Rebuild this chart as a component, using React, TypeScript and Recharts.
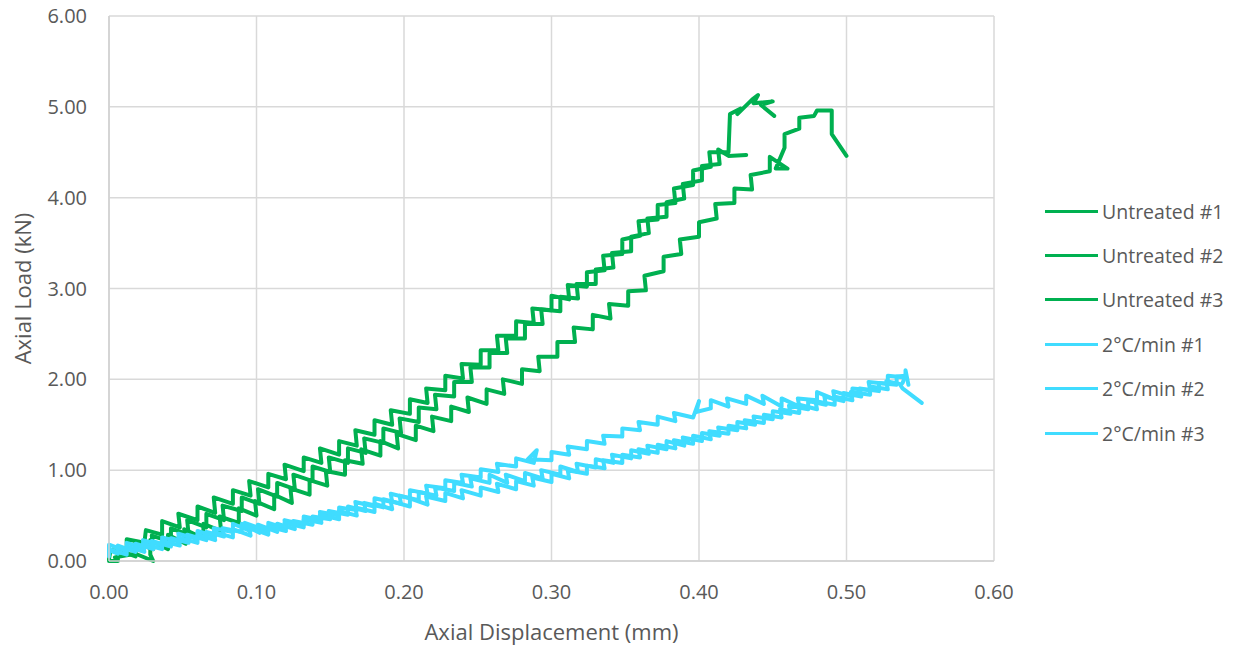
import { LineChart, Line, XAxis, YAxis, CartesianGrid, Legend } from "recharts";

const FONT = "'Open Sans', sans-serif";
const TEXT = "#595959";
const GREEN = "#00B050";
const CYAN = "#40DCFF";

const xTicks = [0, 0.1, 0.2, 0.3, 0.4, 0.5, 0.6];
const yTicks = [0, 1, 2, 3, 4, 5, 6];

// [displacement mm, load kN] in recording order (stepped loading)
const untreated1: [number, number][] = [
  [0, 0.02], [0.001, 0.12], [0.012, 0.1], [0.012, 0.24], [0.024, 0.2], [0.025, 0.34],
  [0.036, 0.29], [0.036, 0.44], [0.048, 0.37], [0.047, 0.52], [0.06, 0.45], [0.06, 0.6],
  [0.072, 0.53], [0.071, 0.7], [0.084, 0.63], [0.084, 0.78], [0.096, 0.72], [0.095, 0.88],
  [0.108, 0.81], [0.108, 0.96], [0.12, 0.9], [0.119, 1.06], [0.132, 0.99], [0.132, 1.14],
  [0.144, 1.08], [0.143, 1.24], [0.156, 1.17], [0.156, 1.32], [0.168, 1.27], [0.167, 1.44],
  [0.18, 1.39], [0.18, 1.55], [0.192, 1.5], [0.191, 1.66], [0.204, 1.62], [0.204, 1.78],
  [0.216, 1.74], [0.215, 1.9], [0.228, 1.88], [0.228, 2.04], [0.24, 2.01], [0.239, 2.17],
  [0.252, 2.16], [0.252, 2.32], [0.264, 2.32], [0.263, 2.48], [0.276, 2.48], [0.276, 2.64],
  [0.288, 2.62], [0.287, 2.78], [0.3, 2.76], [0.3, 2.92], [0.312, 2.88], [0.311, 3.04],
  [0.324, 3.02], [0.324, 3.18], [0.336, 3.2], [0.335, 3.36], [0.348, 3.38], [0.348, 3.54],
  [0.36, 3.58], [0.359, 3.74], [0.372, 3.76], [0.372, 3.92], [0.384, 3.94], [0.383, 4.1],
  [0.396, 4.14], [0.396, 4.3], [0.408, 4.34], [0.407, 4.5], [0.42, 4.5], [0.421, 4.92],
  [0.428, 4.98], [0.426, 4.92], [0.436, 5.08], [0.44, 5.13], [0.437, 5.04], [0.45, 5.06],
  [0.442, 5.02], [0.451, 4.9],
];

const untreated2: [number, number][] = [
  [0, 0], [0.006, 0], [0.006, 0.12], [0.018, 0.05], [0.018, 0.2], [0.03, 0.13], [0.029, 0.28],
  [0.042, 0.21], [0.042, 0.36], [0.054, 0.29], [0.053, 0.45], [0.066, 0.37], [0.066, 0.52],
  [0.078, 0.45], [0.077, 0.61], [0.09, 0.55], [0.09, 0.7], [0.102, 0.63], [0.101, 0.79],
  [0.114, 0.71], [0.114, 0.86], [0.126, 0.79], [0.125, 0.95], [0.138, 0.88], [0.138, 1.04],
  [0.15, 0.98], [0.149, 1.14], [0.162, 1.08], [0.162, 1.24], [0.174, 1.19], [0.173, 1.35],
  [0.186, 1.3], [0.186, 1.46], [0.198, 1.41], [0.197, 1.57], [0.21, 1.53], [0.21, 1.69],
  [0.222, 1.67], [0.221, 1.83], [0.234, 1.81], [0.234, 1.97], [0.246, 1.97], [0.245, 2.13],
  [0.258, 2.13], [0.258, 2.29], [0.27, 2.29], [0.269, 2.45], [0.282, 2.45], [0.282, 2.61],
  [0.294, 2.61], [0.293, 2.77], [0.306, 2.75], [0.306, 2.91], [0.318, 2.89], [0.317, 3.05],
  [0.33, 3.05], [0.33, 3.21], [0.342, 3.23], [0.341, 3.39], [0.354, 3.41], [0.354, 3.57],
  [0.366, 3.61], [0.365, 3.77], [0.378, 3.79], [0.378, 3.95], [0.39, 3.99], [0.389, 4.15],
  [0.402, 4.19], [0.402, 4.35], [0.414, 4.37], [0.413, 4.53], [0.42, 4.46], [0.432, 4.47],
];

const untreated3: [number, number][] = [
  [0.004, 0.04], [0.018, 0.08], [0.03, 0], [0.028, 0.07], [0.028, 0.23], [0.04, 0.13],
  [0.04, 0.29], [0.052, 0.19], [0.051, 0.35], [0.064, 0.25], [0.064, 0.41], [0.076, 0.33],
  [0.075, 0.49], [0.088, 0.42], [0.088, 0.58], [0.1, 0.5], [0.099, 0.66], [0.112, 0.57],
  [0.112, 0.73], [0.124, 0.64], [0.123, 0.8], [0.136, 0.73], [0.136, 0.89], [0.148, 0.83],
  [0.147, 0.99], [0.16, 0.95], [0.16, 1.11], [0.172, 1.07], [0.171, 1.23], [0.184, 1.16],
  [0.184, 1.32], [0.196, 1.24], [0.195, 1.4], [0.208, 1.33], [0.208, 1.49], [0.22, 1.43],
  [0.219, 1.59], [0.232, 1.54], [0.232, 1.7], [0.244, 1.64], [0.243, 1.8], [0.256, 1.73],
  [0.256, 1.89], [0.268, 1.84], [0.267, 2.0], [0.28, 1.95], [0.28, 2.11], [0.292, 2.09],
  [0.291, 2.25], [0.304, 2.25], [0.304, 2.41], [0.316, 2.41], [0.315, 2.57], [0.328, 2.55],
  [0.328, 2.71], [0.34, 2.67], [0.339, 2.83], [0.352, 2.81], [0.352, 2.97], [0.364, 2.98],
  [0.363, 3.14], [0.376, 3.19], [0.376, 3.35], [0.388, 3.38], [0.387, 3.54], [0.4, 3.57],
  [0.4, 3.73], [0.412, 3.77], [0.411, 3.93], [0.424, 3.94], [0.424, 4.1], [0.436, 4.09],
  [0.435, 4.25], [0.448, 4.29], [0.448, 4.45], [0.46, 4.32], [0.452, 4.32], [0.458, 4.55],
  [0.458, 4.7], [0.468, 4.76], [0.468, 4.88], [0.478, 4.9], [0.48, 4.96], [0.49, 4.96],
  [0.49, 4.7], [0.5, 4.46],
];

const heated1: [number, number][] = [
  [0, 0.1], [0, 0.18], [0.012, 0.11], [0.012, 0.2], [0.024, 0.14], [0.023, 0.23],
  [0.036, 0.17], [0.036, 0.26], [0.048, 0.21], [0.047, 0.3], [0.06, 0.24], [0.06, 0.33],
  [0.072, 0.27], [0.071, 0.36], [0.084, 0.32], [0.084, 0.41], [0.096, 0.33], [0.092, 0.42],
  [0.108, 0.33], [0.108, 0.42], [0.12, 0.36], [0.119, 0.45], [0.132, 0.4], [0.132, 0.49],
  [0.144, 0.45], [0.143, 0.54], [0.156, 0.5], [0.156, 0.59], [0.168, 0.56], [0.167, 0.65],
  [0.18, 0.6], [0.18, 0.69], [0.192, 0.65], [0.191, 0.74], [0.204, 0.69], [0.204, 0.78],
  [0.216, 0.74], [0.215, 0.83], [0.228, 0.8], [0.228, 0.89], [0.24, 0.86], [0.239, 0.95],
  [0.252, 0.92], [0.252, 1.01], [0.264, 0.98], [0.263, 1.07], [0.276, 1.04], [0.276, 1.13],
  [0.288, 1.08], [0.29, 1.22], [0.284, 1.12], [0.3, 1.11], [0.3, 1.2], [0.312, 1.17],
  [0.311, 1.26], [0.324, 1.23], [0.324, 1.32], [0.336, 1.29], [0.335, 1.38], [0.348, 1.37],
  [0.348, 1.46], [0.36, 1.44], [0.359, 1.53], [0.372, 1.5], [0.372, 1.59], [0.384, 1.54],
  [0.383, 1.63], [0.396, 1.58], [0.4, 1.76], [0.398, 1.64], [0.408, 1.68], [0.408, 1.77],
  [0.42, 1.7], [0.419, 1.79], [0.432, 1.73], [0.432, 1.82], [0.444, 1.73], [0.443, 1.82],
  [0.456, 1.7], [0.456, 1.79], [0.468, 1.7], [0.467, 1.79], [0.48, 1.77], [0.48, 1.86],
  [0.492, 1.78], [0.491, 1.87], [0.504, 1.81], [0.504, 1.9], [0.516, 1.88], [0.515, 1.97],
  [0.528, 1.95], [0.528, 2.04], [0.54, 2.02], [0.54, 2.1], [0.542, 1.94],
];

const heated2: [number, number][] = [
  [0, 0.05], [0, 0.13], [0.012, 0.07], [0.012, 0.16], [0.024, 0.1], [0.023, 0.19],
  [0.036, 0.13], [0.036, 0.22], [0.048, 0.17], [0.047, 0.26], [0.06, 0.2], [0.06, 0.29],
  [0.072, 0.23], [0.071, 0.32], [0.084, 0.26], [0.084, 0.35], [0.096, 0.28], [0.095, 0.37],
  [0.108, 0.29], [0.108, 0.38], [0.12, 0.33], [0.119, 0.42], [0.132, 0.37], [0.132, 0.46],
  [0.144, 0.42], [0.143, 0.51], [0.156, 0.46], [0.156, 0.55], [0.168, 0.5], [0.167, 0.59],
  [0.18, 0.54], [0.18, 0.63], [0.192, 0.57], [0.191, 0.66], [0.204, 0.6], [0.204, 0.69],
  [0.216, 0.62], [0.215, 0.71], [0.228, 0.66], [0.228, 0.75], [0.24, 0.69], [0.239, 0.78],
  [0.252, 0.72], [0.252, 0.81], [0.264, 0.76], [0.263, 0.85], [0.276, 0.79], [0.276, 0.88],
  [0.288, 0.83], [0.287, 0.92], [0.3, 0.87], [0.3, 0.96], [0.312, 0.91], [0.311, 1.0],
  [0.324, 0.96], [0.324, 1.05], [0.336, 1.02], [0.335, 1.11], [0.348, 1.08], [0.348, 1.17],
  [0.36, 1.14], [0.359, 1.23], [0.372, 1.19], [0.372, 1.28], [0.384, 1.24], [0.383, 1.33],
  [0.396, 1.29], [0.396, 1.38], [0.408, 1.34], [0.407, 1.43], [0.42, 1.4], [0.42, 1.49],
  [0.432, 1.46], [0.431, 1.55], [0.444, 1.52], [0.444, 1.61], [0.456, 1.58], [0.455, 1.67],
  [0.468, 1.63], [0.468, 1.72], [0.48, 1.67], [0.479, 1.76], [0.492, 1.72], [0.492, 1.81],
  [0.504, 1.77], [0.503, 1.86], [0.516, 1.83], [0.516, 1.92], [0.528, 1.89], [0.527, 1.98],
  [0.536, 1.95], [0.538, 1.9], [0.551, 1.74],
];

const heated3: [number, number][] = [
  [0, 0.12], [0.006, 0.08], [0.006, 0.17], [0.018, 0.1], [0.018, 0.19], [0.03, 0.13],
  [0.029, 0.22], [0.042, 0.16], [0.042, 0.25], [0.054, 0.2], [0.053, 0.29], [0.066, 0.23],
  [0.066, 0.32], [0.078, 0.27], [0.077, 0.36], [0.09, 0.32], [0.09, 0.41], [0.102, 0.31],
  [0.101, 0.4], [0.114, 0.32], [0.114, 0.41], [0.126, 0.35], [0.125, 0.44], [0.138, 0.4],
  [0.138, 0.49], [0.15, 0.46], [0.149, 0.55], [0.162, 0.51], [0.162, 0.6], [0.174, 0.55],
  [0.173, 0.64], [0.186, 0.59], [0.186, 0.68], [0.198, 0.63], [0.197, 0.72], [0.21, 0.67],
  [0.21, 0.76], [0.222, 0.72], [0.221, 0.81], [0.234, 0.77], [0.234, 0.86], [0.246, 0.82],
  [0.245, 0.91], [0.258, 0.86], [0.258, 0.95], [0.27, 0.86], [0.269, 0.95], [0.282, 0.88],
  [0.282, 0.97], [0.294, 0.91], [0.293, 1.0], [0.306, 0.95], [0.306, 1.04], [0.318, 0.98],
  [0.317, 1.07], [0.33, 1.03], [0.33, 1.12], [0.342, 1.08], [0.341, 1.17], [0.354, 1.13],
  [0.354, 1.22], [0.366, 1.18], [0.365, 1.27], [0.378, 1.23], [0.378, 1.32], [0.39, 1.27],
  [0.389, 1.36], [0.402, 1.32], [0.402, 1.41], [0.414, 1.38], [0.413, 1.47], [0.426, 1.44],
  [0.426, 1.53], [0.438, 1.5], [0.437, 1.59], [0.45, 1.56], [0.45, 1.65], [0.462, 1.62],
  [0.461, 1.71], [0.474, 1.67], [0.474, 1.76], [0.486, 1.72], [0.485, 1.81], [0.498, 1.76],
  [0.498, 1.85], [0.51, 1.81], [0.509, 1.9], [0.522, 1.87], [0.522, 1.96], [0.534, 1.94],
  [0.534, 2.03], [0.54, 2.04], [0.538, 1.96],
];

const series = [
  { name: "Untreated #1", points: untreated1, color: GREEN },
  { name: "Untreated #2", points: untreated2, color: GREEN },
  { name: "Untreated #3", points: untreated3, color: GREEN },
  { name: "2°C/min #1", points: heated1, color: CYAN },
  { name: "2°C/min #2", points: heated2, color: CYAN },
  { name: "2°C/min #3", points: heated3, color: CYAN },
];

// keep the legend in series order (recharts sorts the payload by name)
function LegendList() {
  return (
    <div style={{ fontFamily: FONT, fontSize: 19.5, color: TEXT }}>
      {series.map((s) => (
        <div key={s.name} style={{ display: "flex", alignItems: "center", height: 44.4 }}>
          <span style={{ display: "inline-block", width: 53, height: 3, background: s.color, marginRight: 4 }} />
          <span>{s.name}</span>
        </div>
      ))}
    </div>
  );
}

export default function App() {
  return (
    <div style={{ position: "absolute", left: 0, top: 0, background: "#fff" }}>
      <LineChart width={1240} height={648} margin={{ top: 16, right: 246, bottom: 0, left: 0 }}>
        <CartesianGrid stroke="#D9D9D9" strokeWidth={1.5} />
        <XAxis
          type="number"
          dataKey="x"
          domain={[0, 0.6]}
          ticks={xTicks}
          tickFormatter={(v: number) => v.toFixed(2)}
          height={87}
          tickSize={0}
          tickMargin={24}
          stroke="#D0D0D0"
          strokeWidth={1.5}
          tick={{ fill: TEXT, fontSize: 20, fontFamily: FONT }}
          label={{
            content: ({ viewBox }: any) => (
              <text
                x={viewBox.x + viewBox.width / 2}
                y={640}
                textAnchor="middle"
                fill={TEXT}
                fontSize={22}
                fontFamily={FONT}
              >
                Axial Displacement (mm)
              </text>
            ),
          }}
        />
        <YAxis
          type="number"
          dataKey="y"
          domain={[0, 6]}
          ticks={yTicks}
          tickFormatter={(v: number) => v.toFixed(2)}
          width={109}
          tickSize={0}
          tickMargin={22}
          stroke="#D0D0D0"
          strokeWidth={1.5}
          tick={{ fill: TEXT, fontSize: 20, fontFamily: FONT }}
          label={{
            content: ({ viewBox }: any) => {
              const cx = 22;
              const cy = viewBox.y + viewBox.height / 2;
              return (
                <text
                  x={cx}
                  y={cy}
                  transform={`rotate(-90 ${cx} ${cy})`}
                  textAnchor="middle"
                  dominantBaseline="central"
                  fill={TEXT}
                  fontSize={22}
                  fontFamily={FONT}
                >
                  Axial Load (kN)
                </text>
              );
            },
          }}
        />
        <Legend
          layout="vertical"
          align="center"
          verticalAlign="middle"
          content={LegendList}
          wrapperStyle={{ left: 1045, top: 189, width: 190 }}
        />
        {series.map((s) => (
          <Line
            key={s.name}
            name={s.name}
            data={s.points.map(([x, y]) => ({ x, y }))}
            dataKey="y"
            stroke={s.color}
            strokeWidth={4}
            strokeLinejoin="round"
            strokeLinecap="round"
            dot={false}
            activeDot={false}
            legendType="line"
            isAnimationActive={false}
          />
        ))}
      </LineChart>
    </div>
  );
}
